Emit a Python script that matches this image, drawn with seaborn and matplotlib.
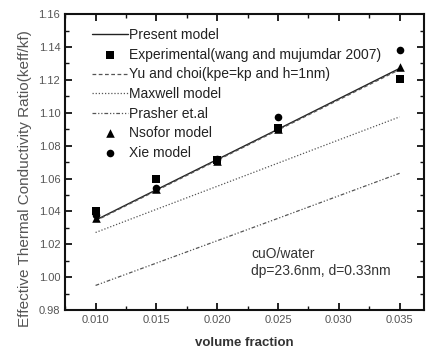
import matplotlib
matplotlib.use("Agg")
import matplotlib.pyplot as plt
import seaborn as sns
import numpy as np
from matplotlib.ticker import MultipleLocator, FormatStrFormatter

sns.set_theme(style="ticks")
plt.rcParams['font.family'] = ['Liberation Sans', 'DejaVu Sans']

# ---- data ----
phi_model = [0.010, 0.015, 0.020, 0.025, 0.030, 0.035]
present_model = [1.0347, 1.0532, 1.0716, 1.0900, 1.1085, 1.1270]
yu_choi = [1.0343, 1.0527, 1.0711, 1.0895, 1.1079, 1.1263]
maxwell = [1.0272, 1.0413, 1.0553, 1.0694, 1.0835, 1.0975]
prasher = [0.9950, 1.0086, 1.0222, 1.0358, 1.0495, 1.0632]

phi_pts = [0.010, 0.015, 0.020, 0.025, 0.035]
experimental = [1.0400, 1.0600, 1.0710, 1.0905, 1.1205]
nsofor = [1.0360, 1.0534, 1.0705, 1.0900, 1.1280]
xie = [1.0380, 1.0540, 1.0720, 1.0973, 1.1384]

labels = ["Present model",
          "Experimental(wang and mujumdar 2007)",
          "Yu and choi(kpe=kp and h=1nm)",
          "Maxwell model",
          "Prasher et.al",
          "Nsofor model",
          "Xie model"]
xticks = [0.010, 0.015, 0.020, 0.025, 0.030, 0.035]
yticks = [0.98, 1.00, 1.02, 1.04, 1.06, 1.08, 1.10, 1.12, 1.14, 1.16]

fig = plt.figure(figsize=(4.26, 3.54), dpi=100)
ax = fig.add_axes([0.153, 0.124, 0.842, 0.836])

sns.lineplot(x=phi_model, y=present_model, ax=ax, color="#222222", linewidth=1.0,
             linestyle="-", label=labels[0])
sns.scatterplot(x=phi_pts, y=experimental, ax=ax, color="black", marker="s", s=30,
                edgecolor="black", linewidth=0, label=labels[1], zorder=4)
sns.lineplot(x=phi_model, y=yu_choi, ax=ax, color="#555555", linewidth=0.9,
             linestyle=(0, (3, 2)), label=labels[2])
sns.lineplot(x=phi_model, y=maxwell, ax=ax, color="#555555", linewidth=0.9,
             linestyle=(0, (1, 1.5)), label=labels[3])
sns.lineplot(x=phi_model, y=prasher, ax=ax, color="#555555", linewidth=0.9,
             linestyle=(0, (3, 1.5, 1, 1.5, 1, 1.5)), label=labels[4])
sns.scatterplot(x=phi_pts, y=nsofor, ax=ax, color="black", marker="^", s=38,
                edgecolor="black", linewidth=0, label=labels[5], zorder=4)
sns.scatterplot(x=phi_pts, y=xie, ax=ax, color="black", marker="o", s=30,
                edgecolor="black", linewidth=0, label=labels[6], zorder=4)

handles, labs = ax.get_legend_handles_labels()
order = [labs.index(l) for l in labels]
leg = ax.legend([handles[i] for i in order], [labs[i] for i in order],
                loc="upper left", bbox_to_anchor=(0.049, 0.985), frameon=False,
                fontsize=10, handlelength=2.55, handletextpad=0.05,
                labelspacing=0.4, borderaxespad=0.3)
for t in leg.get_texts():
    t.set_color("#222222")

ax.text(0.0228, 0.9995, "cuO/water\ndp=23.6nm, d=0.33nm", fontsize=10,
        color="#333333", va="bottom", ha="left", linespacing=1.25)

ax.set_xlim(0.0075, 0.037)
ax.set_ylim(0.98, 1.16)
ax.set_xticks(xticks)
ax.set_yticks(yticks)
ax.xaxis.set_major_formatter(FormatStrFormatter("%.3f"))
ax.yaxis.set_major_formatter(FormatStrFormatter("%.2f"))
ax.xaxis.set_minor_locator(MultipleLocator(0.0025))
ax.yaxis.set_minor_locator(MultipleLocator(0.01))
ax.tick_params(which="both", direction="in", top=True, right=True,
               labelsize=8, labelcolor="#555555", color="#111111")
ax.tick_params(which="major", length=5, width=1.3)
ax.tick_params(which="minor", length=3, width=1.0)
for sp in ax.spines.values():
    sp.set_linewidth(1.5)
    sp.set_color("#111111")

ax.set_xlabel("volume fraction", fontsize=9.5, fontweight="bold", color="#333333",
              labelpad=9)
ax.set_ylabel("Effective Thermal Conductivity Ratio(keff/kf)", fontsize=11,
              color="#555555")
ax.yaxis.set_label_coords(-0.092, 0.443)

fig.savefig("out.png", dpi=100)
